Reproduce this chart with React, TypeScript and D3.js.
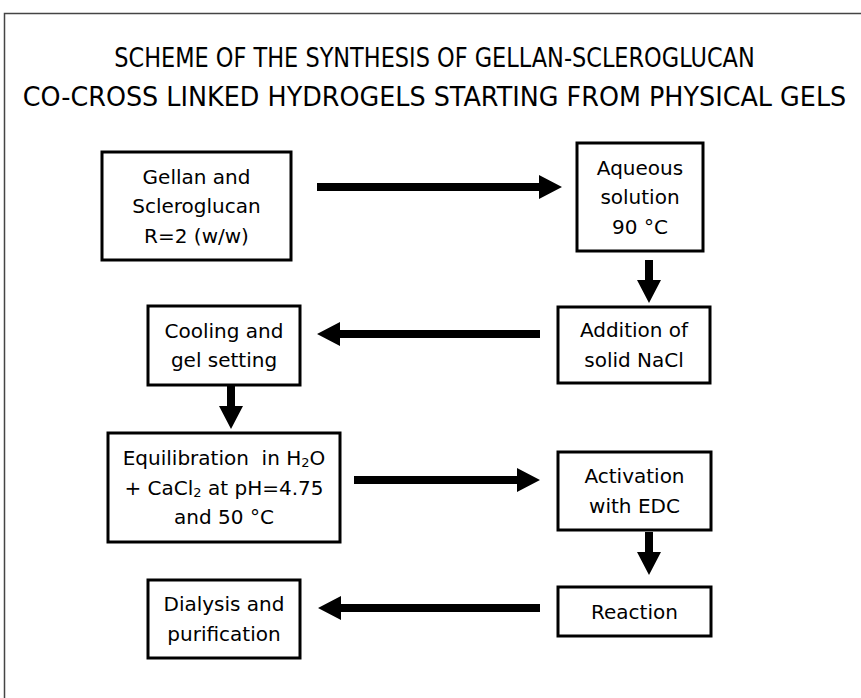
import React, { useEffect, useRef } from "react";
import * as d3 from "d3";

const WIDTH = 861;
const HEIGHT = 698;

const titleLines = [
  "SCHEME OF THE SYNTHESIS OF GELLAN-SCLEROGLUCAN",
  "CO-CROSS LINKED HYDROGELS STARTING FROM PHYSICAL GELS",
];

// each line is a list of [text, isSubscript] segments
type Seg = [string, boolean];
const nodeIds = ["start", "aq", "nacl", "cool", "equil", "act", "react", "dial"];
const nodeLabels: Seg[][][] = [
  [[["Gellan and", false]], [["Scleroglucan", false]], [["R=2 (w/w)", false]]],
  [[["Aqueous", false]], [["solution", false]], [["90 °C", false]]],
  [[["Addition of", false]], [["solid NaCl", false]]],
  [[["Cooling and", false]], [["gel setting", false]]],
  [
    [["Equilibration  in H", false], ["2", true], ["O", false]],
    [["+ CaCl", false], ["2", true], [" at pH=4.75", false]],
    [["and 50 °C", false]],
  ],
  [[["Activation", false]], [["with EDC", false]]],
  [[["Reaction", false]]],
  [[["Dialysis and", false]], [["purification", false]]],
];
// box layout [x0, y0, x1, y1]
const nodeBoxes: [number, number, number, number][] = [
  [102, 152, 291, 260],
  [577, 143, 703, 251],
  [558, 307, 710, 383],
  [148, 306, 300, 385],
  [108, 433, 340, 542],
  [558, 452, 711, 530],
  [558, 587, 711, 636],
  [148, 580, 300, 658],
];
// arrows: [fromX, fromY, toX, toY]
const arrowPaths: [number, number, number, number][] = [
  [317, 187, 562, 187],
  [649, 260, 649, 303],
  [540, 334, 317, 334],
  [231, 385, 231, 429],
  [354, 480, 540, 480],
  [649, 532, 649, 575],
  [540, 608, 318, 608],
];

const FONT = "'DejaVu Sans', 'Noto Sans', sans-serif";

export default function App() {
  const ref = useRef<SVGSVGElement | null>(null);

  useEffect(() => {
    const svg = d3.select(ref.current);
    svg.selectAll("*").remove();

    svg
      .append("rect")
      .attr("width", WIDTH)
      .attr("height", HEIGHT)
      .attr("fill", "#fff");

    // outer frame
    svg
      .append("rect")
      .attr("x", 4.5)
      .attr("y", 13.5)
      .attr("width", WIDTH + 20)
      .attr("height", HEIGHT + 20)
      .attr("fill", "none")
      .attr("stroke", "#444")
      .attr("stroke-width", 1.5);

    // title: rendered at natural width, then scaled horizontally to fit
    const titleY = [58, 97];
    const titleW = [641, 824];
    const titleCx = WIDTH / 2 + 4;
    svg
      .selectAll("text.title")
      .data(titleLines)
      .join("text")
      .attr("class", "title")
      .attr("x", 0)
      .attr("y", 0)
      .attr("text-anchor", "middle")
      .attr("dominant-baseline", "central")
      .attr("font-family", FONT)
      .attr("font-size", 26)
      .attr("fill", "#000")
      .text((d) => d)
      .each(function (_d, i) {
        const el = this as SVGTextElement;
        const w = el.getComputedTextLength() || titleW[i];
        const sx = titleW[i] / w;
        d3.select(el).attr(
          "transform",
          `translate(${titleCx},${titleY[i]}) scale(${sx},1)`
        );
      });

    // boxes
    const g = svg
      .selectAll("g.node")
      .data(nodeIds)
      .join("g")
      .attr("class", "node");
    g.append("rect")
      .attr("x", (_d, i) => nodeBoxes[i][0])
      .attr("y", (_d, i) => nodeBoxes[i][1])
      .attr("width", (_d, i) => nodeBoxes[i][2] - nodeBoxes[i][0])
      .attr("height", (_d, i) => nodeBoxes[i][3] - nodeBoxes[i][1])
      .attr("fill", "#fff")
      .attr("stroke", "#000")
      .attr("stroke-width", 3);

    const lineH = 29.5;
    g.each(function (_d, i) {
      const [x0, y0, x1, y1] = nodeBoxes[i];
      const cx = (x0 + x1) / 2;
      const cy = (y0 + y1) / 2;
      const lines = nodeLabels[i];
      const n = lines.length;
      lines.forEach((segs, li) => {
        const t = d3
          .select(this)
          .append("text")
          .attr("x", cx)
          .attr("y", cy + (li - (n - 1) / 2) * lineH)
          .attr("text-anchor", "middle")
          .attr("dominant-baseline", "central")
          .attr("font-family", FONT)
          .attr("font-size", 20)
          .attr("fill", "#000")
          .style("white-space", "pre");
        segs.forEach(([s, sub], k) => {
          const ts = t.append("tspan").text(s);
          const prevSub = k > 0 && segs[k - 1][1];
          if (sub) ts.attr("font-size", 13).attr("dy", 4);
          else if (prevSub) ts.attr("dy", -4);
        });
      });
    });

    // arrows
    const shaft = 4;
    const headHalf = 12;
    const headLen = 23;
    arrowPaths.forEach(([fx, fy, tx, ty]) => {
      const dx = tx - fx;
      const dy = ty - fy;
      const len = Math.hypot(dx, dy);
      const ux = dx / len;
      const uy = dy / len;
      const px = -uy;
      const py = ux;
      const bx = tx - ux * headLen;
      const by = ty - uy * headLen;
      const pts: [number, number][] = [
        [fx + px * shaft, fy + py * shaft],
        [bx + px * shaft, by + py * shaft],
        [bx + px * headHalf, by + py * headHalf],
        [tx, ty],
        [bx - px * headHalf, by - py * headHalf],
        [bx - px * shaft, by - py * shaft],
        [fx - px * shaft, fy - py * shaft],
      ];
      svg
        .append("path")
        .attr("d", d3.line()(pts) + "Z")
        .attr("fill", "#000");
    });
  }, []);

  return (
    <svg
      ref={ref}
      width={WIDTH}
      height={HEIGHT}
      style={{ position: "absolute", left: 0, top: 0, display: "block" }}
    />
  );
}
